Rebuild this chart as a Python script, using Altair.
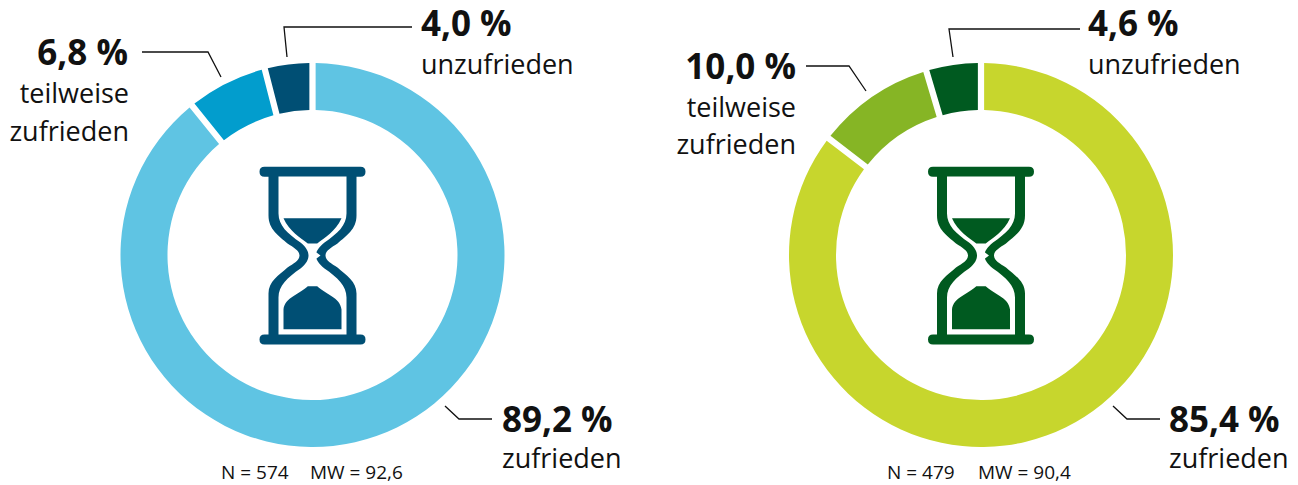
import altair as alt
import pandas as pd

W, H = 1282, 477
FONT = "Open Sans"

cats = ["zufrieden", "teilweise", "unzufrieden"]
left_vals = [89.2, 6.8, 4.0]
right_vals = [85.4, 10.0, 4.6]
left_cols = ["#5FC4E3", "#029DCD", "#004F74"]
right_cols = ["#C7D62D", "#86B525", "#005A20"]
centers_x = [312.5, 981]
center_y = 255

big_text = ["4,0 %", "6,8 %", "89,2 %", "4,6 %", "10,0 %", "85,4 %"]
big_x = [421, 128, 502, 1088, 796, 1169]
big_y = [36, 65, 432, 36, 79, 432]
big_al = ["left", "right", "left", "left", "right", "left"]

mid_text = ["unzufrieden", "teilweise", "zufrieden", "zufrieden",
            "unzufrieden", "teilweise", "zufrieden", "zufrieden"]
mid_x = [421, 129, 129, 502, 1088, 796, 796, 1169]
mid_y = [74, 103, 141, 468, 74, 117, 154, 468]
mid_al = ["left", "right", "right", "left", "left", "right", "right", "left"]

small_text = ["N = 574", "MW = 92,6", "N = 479", "MW = 90,4"]
small_x = [221, 310, 887, 978]
small_y = [479, 479, 479, 479]

leaders = [
    [(287, 57), (284, 27), (412, 27)],
    [(221, 77), (208, 52), (142, 52)],
    [(445, 406), (459, 419), (492, 419)],
    [(953, 57), (949, 29), (1080, 29)],
    [(866, 91), (849, 66), (806, 66)],
    [(1113, 406), (1127, 419), (1160, 419)],
]

outer = ("M-48,-88.7 L48,-88.7 Q53,-88.7 53,-83.7 Q53,-78.7 48,-78.7 L-48,-78.7 "
         "Q-53,-78.7 -53,-83.7 Q-53,-88.7 -48,-88.7 Z "
         "M-48,79 L48,79 Q53,79 53,84 Q53,89 48,89 L-48,89 Q-53,89 -53,84 Q-53,79 -48,79 Z "
         "M-44,-80 L44,-80 L44,-40 C44,-26 34,-20 25,-12 C19,-8 13,-5 13,0 C13,5 19,8 25,12 "
         "C34,20 44,26 44,38 L44,80 L-44,80 L-44,38 C-44,26 -34,20 -25,12 C-19,8 -13,5 -13,0 "
         "C-13,-5 -19,-8 -25,-12 C-34,-20 -44,-26 -44,-40 Z")
inner = ("M-34,-79 L34,-79 L34,-42 C34,-30 25,-22 12,-13 C6,-8 4,-4 4,-3 L8,0 L4,3 C4,4 6,8 12,13 "
         "C25,22 34,30 34,42 L34,79 L-34,79 L-34,42 C-34,30 -25,22 -12,13 C-6,8 -4,4 -4,0 "
         "C-4,-4 -6,-8 -12,-13 C-25,-22 -34,-30 -34,-42 Z")
sand = ("M-29,-37.3 L29,-37.3 C23,-24 12,-18 4.7,-12 L-4.7,-12 C-12,-18 -23,-24 -29,-37.3 Z "
        "M-4.7,30.7 L4.7,30.7 C12,38 28,42 29,54 L29,73.7 L-29,73.7 L-29,54 C-28,42 -12,38 -4.7,30.7 Z")

xs = alt.X("x:Q", scale=alt.Scale(domain=[8, 8 + W], range=[0, W]), axis=None)
ys = alt.Y("y:Q", scale=alt.Scale(domain=[8, 8 + H], range=[0, H]), axis=None)


def donut(cx, vals, cols):
    d = pd.DataFrame({"x": cx, "y": center_y, "cat": cats, "v": vals, "c": cols, "o": [0, 1, 2]})
    return alt.Chart(d).mark_arc(radius=192, radius2=145, padAngle=0.026).encode(
        x=xs, y=ys,
        theta=alt.Theta("v:Q", stack=True, scale=alt.Scale(domain=[0, 100])),
        order=alt.Order("o:Q"),
        color=alt.Color("c:N", scale=None),
    )


def glass(cx, col):
    d = pd.DataFrame({"x": [cx], "y": [center_y + 0.5]})
    base = alt.Chart(d)
    kw = dict(filled=True, size=4, opacity=1, strokeWidth=0)
    return [
        base.mark_point(shape=outer, color=col, **kw).encode(x=xs, y=ys),
        base.mark_point(shape=inner, color="#ffffff", **kw).encode(x=xs, y=ys),
        base.mark_point(shape=sand, color=col, **kw).encode(x=xs, y=ys),
    ]


def texts(t, x, y, al, size, weight):
    d = pd.DataFrame({"t": t, "x": x, "y": y, "a": al})
    out = []
    for a in ["left", "right"]:
        sub = d[d.a == a]
        if len(sub):
            out.append(alt.Chart(sub).mark_text(
                align=a, baseline="alphabetic", font=FONT, fontSize=size,
                fontWeight=weight, color="#111111").encode(x=xs, y=ys, text="t:N"))
    return out


rows = []
for i, pts in enumerate(leaders):
    for j, (px, py) in enumerate(pts):
        rows.append({"x": px, "y": py, "g": i, "o": j})
lines = alt.Chart(pd.DataFrame(rows)).mark_line(color="#111111", strokeWidth=1.3).encode(
    x=xs, y=ys, detail="g:N", order="o:Q")

layers = [donut(centers_x[0], left_vals, left_cols), donut(centers_x[1], right_vals, right_cols)]
layers += glass(centers_x[0], left_cols[2]) + glass(centers_x[1], right_cols[2])
layers.append(lines)
layers += texts(big_text, big_x, big_y, big_al, 35, 700)
layers += texts(mid_text, mid_x, mid_y, mid_al, 27, 400)
layers += texts(small_text, small_x, small_y, ["left"] * 4, 19, 400)

chart = alt.layer(*layers).properties(
    width=W, height=H, padding=0, autosize=alt.AutoSizeParams(type="none"), background="#ffffff"
).configure_view(stroke=None)

chart.save("out.html", embed_options={"renderer": "svg", "actions": False})
